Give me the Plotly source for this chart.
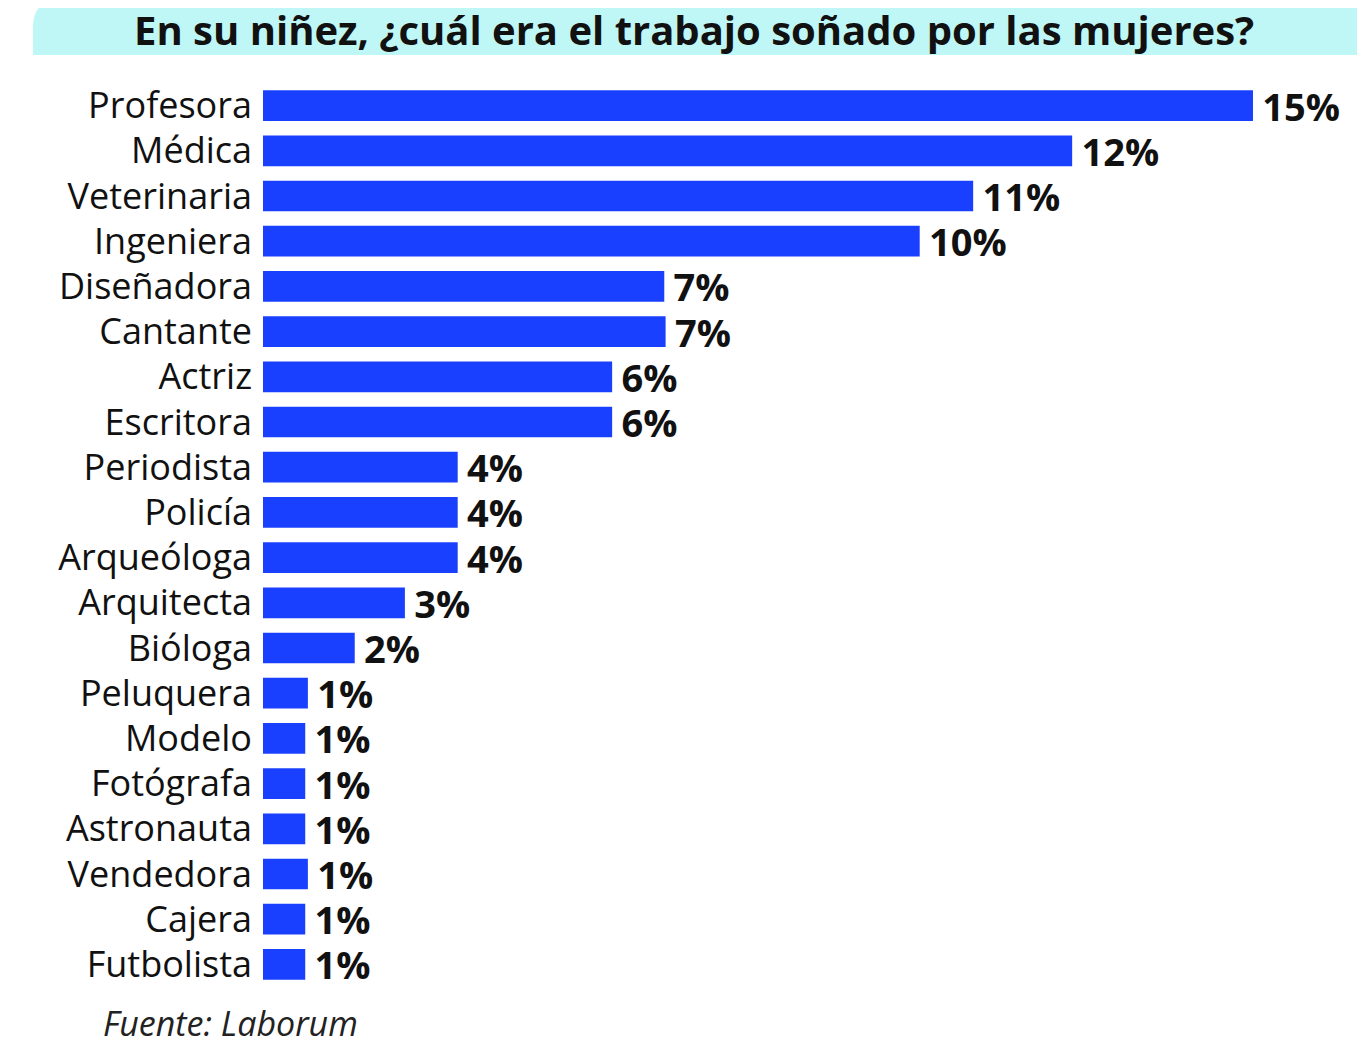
import plotly.graph_objects as go

# Datos (longitud de barra en puntos porcentuales aprox.)
profesiones = ['Profesora', 'Médica', 'Veterinaria', 'Ingeniera', 'Diseñadora',
               'Cantante', 'Actriz', 'Escritora', 'Periodista', 'Policía',
               'Arqueóloga', 'Arquitecta', 'Bióloga', 'Peluquera', 'Modelo',
               'Fotógrafa', 'Astronauta', 'Vendedora', 'Cajera', 'Futbolista']
longitudes = [15.0, 12.26, 10.76, 9.95, 6.08, 6.1, 5.29, 5.29, 2.95, 2.95,
              2.95, 2.15, 1.39, 0.68, 0.64, 0.64, 0.64, 0.68, 0.64, 0.64]
etiquetas = ['15%', '12%', '11%', '10%', '7%', '7%', '6%', '6%', '4%', '4%',
             '4%', '3%', '2%', '1%', '1%', '1%', '1%', '1%', '1%', '1%']

titulo = 'En su niñez, ¿cuál era el trabajo soñado por las mujeres?'
fuente = 'Fuente: Laborum'

fig = go.Figure(go.Bar(
    x=longitudes,
    y=profesiones,
    orientation='h',
    marker=dict(color='#1a40ff', line=dict(width=0)),
    text=etiquetas,
    texttemplate='\u2009%{text}',
    textposition='outside',
    constraintext='none',
    cliponaxis=False,
    textfont=dict(family='Open Sans', size=38, color='#111111', weight='bold'),
    hoverinfo='skip',
))

# Banda del título con esquina redondeada (coordenadas de papel)
x0, x1 = -0.2178, 1.06
y0, y1 = 1.031, 1.0918
rad = 0.03
fig.add_shape(
    type='path', xref='paper', yref='paper',
    path=(f'M {x0},{y0} L {x0},{y1 - rad} Q {x0},{y1} {x0 + rad * 0.86},{y1} '
          f'L {x1},{y1} L {x1},{y0} Z'),
    fillcolor='#bff7f7', line=dict(width=0), layer='below',
)

fig.add_annotation(
    text=titulo, xref='paper', yref='paper', x=0.408, y=1.0597,
    xanchor='center', yanchor='middle', showarrow=False,
    font=dict(family='Open Sans', size=40, color='#111111', weight='bold'),
)
fig.add_annotation(
    text=fuente, xref='paper', yref='paper', x=-0.153, y=-0.04,
    xanchor='left', yanchor='middle', showarrow=False,
    font=dict(family='Open Sans', size=34, color='#222222', style='italic'),
)

# La página tiene 8 px de margen, por eso el área se desplaza
fig.update_layout(
    width=1365, height=1045,
    margin=dict(l=255, r=54, t=75, b=66),
    paper_bgcolor='white', plot_bgcolor='white',
    bargap=0.32,
    showlegend=False,
    xaxis=dict(range=[0, 16], visible=False, fixedrange=True),
    yaxis=dict(
        autorange='reversed', showgrid=False, showline=False, zeroline=False,
        ticks='', ticklabelstandoff=10,
        tickfont=dict(family='Open Sans', size=36, color='#111111'),
        fixedrange=True,
    ),
)

fig.write_html('out.html')
